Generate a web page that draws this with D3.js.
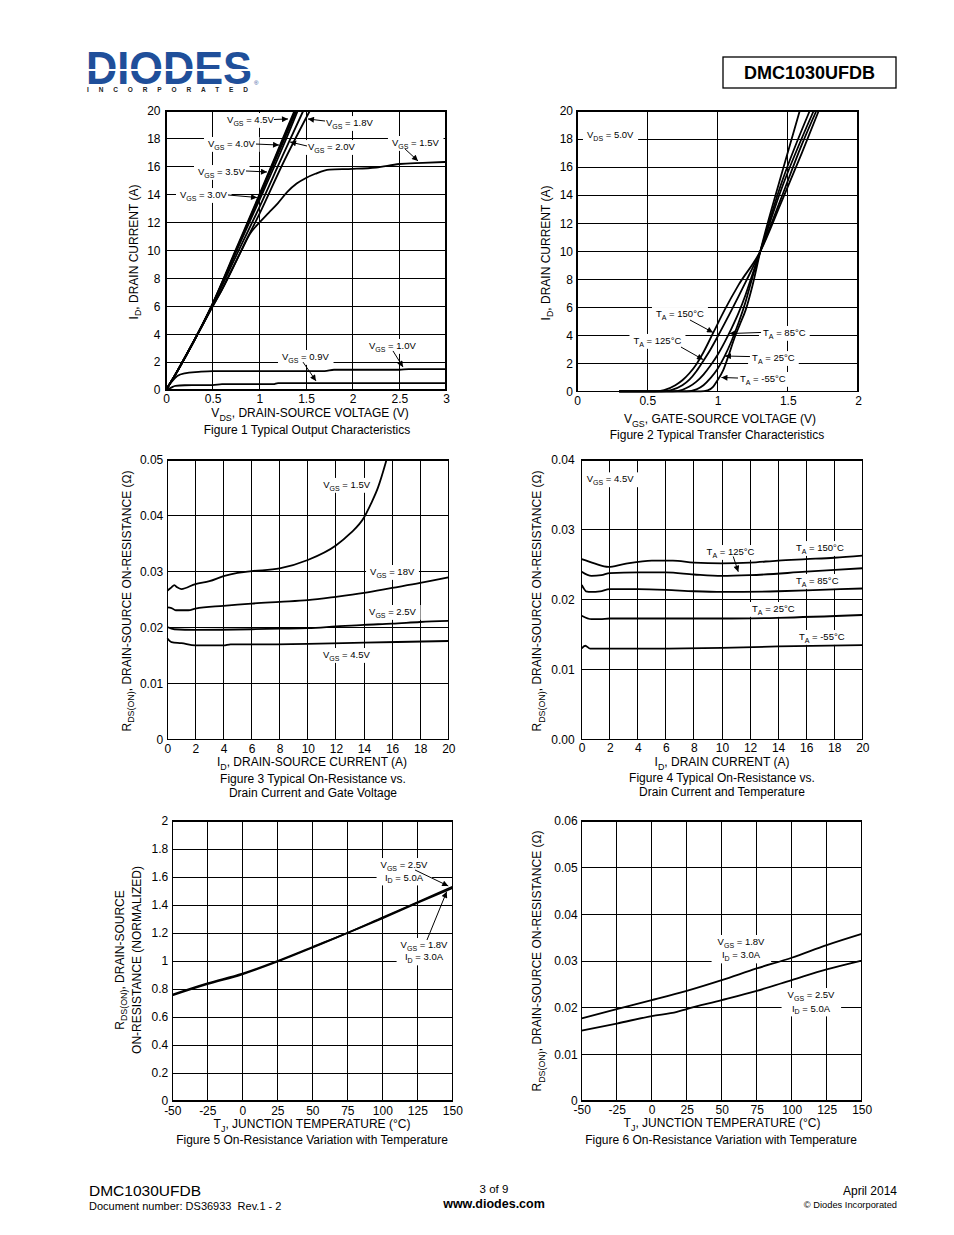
<!DOCTYPE html>
<html><head><meta charset="utf-8">
<script src="https://cdn.jsdelivr.net/npm/d3@7"></script>
<style>
body{margin:0;background:#fff}
svg{display:block}
text{font-family:"Liberation Sans",Arial,Helvetica,sans-serif;fill:#000}
</style>
</head><body>
<svg id="page" width="954" height="1235"></svg>
<script>
// ---------------- DATA ----------------
// Figure 1: ID (A) vs VDS (V)
const f1Vgs45 = [[0,0],[0.1,1.1],[0.25,2.9],[0.5,6.2],[0.75,10.1],[1.0,14.0],[1.25,18.0],[1.375,20]];
const f1Vgs40 = [[0,0],[0.1,1.1],[0.25,2.9],[0.5,6.2],[0.75,10.0],[1.0,13.9],[1.25,17.9],[1.385,20]];
const f1Vgs35 = [[0,0],[0.1,1.1],[0.25,2.9],[0.5,6.15],[0.75,9.95],[1.0,13.8],[1.25,17.7],[1.395,20]];
const f1Vgs30 = [[0,0],[0.1,1.1],[0.25,2.9],[0.5,6.1],[0.75,9.9],[1.0,13.6],[1.25,17.4],[1.41,20]];
const f1Vgs20 = [[0,0],[0.1,1.1],[0.25,2.9],[0.5,6.1],[0.75,9.6],[1.0,13.1],[1.25,16.8],[1.47,20]];
const f1Vgs18 = [[0,0],[0.1,1.1],[0.25,2.9],[0.5,6.0],[0.6,7.2],[0.75,9.2],[0.85,10.6],[1.0,12.6],[1.25,16.2],[1.54,20]];
const f1Vgs15 = [[0,0],[0.1,1.1],[0.25,2.9],[0.5,6.0],[0.6,7.2],[0.8,9.9],[0.9,11.2],[1.0,12.0],[1.1,12.7],[1.2,13.4],[1.3,14.2],[1.4,14.8],[1.5,15.2],[1.6,15.5],[1.75,15.8],[2.0,15.85],[2.25,15.95],[2.5,16.2],[2.75,16.28],[3.0,16.35]];
const f1Vgs10 = [[0,0],[0.05,0.5],[0.12,1.0],[0.2,1.2],[0.35,1.3],[0.5,1.36],[1.0,1.35],[1.7,1.35],[1.8,1.45],[2.5,1.45],[2.6,1.5],[3.0,1.5]];
const f1Vgs09 = [[0,0],[0.05,0.15],[0.1,0.3],[0.2,0.34],[0.5,0.35],[0.6,0.42],[1.15,0.42],[1.2,0.5],[3.0,0.5]];
const f1XTicks = [0,0.5,1,1.5,2,2.5,3];
const f1XTickLabels = ["0","0.5","1","1.5","2","2.5","3"];
const f1YTicks = [0,2,4,6,8,10,12,14,16,18,20];
const f1YTickLabels = ["0","2","4","6","8","10","12","14","16","18","20"];

// Figure 2: ID (A) vs VGS (V)
const f2T150 = [[0.3,0],[0.55,0],[0.62,0.1],[0.7,0.45],[0.75,0.8],[0.8,1.3],[0.85,1.95],[0.9,2.8],[0.97,4.2],[1.05,5.8],[1.15,7.6],[1.305,10],[1.45,13.4],[1.6,17.0],[1.72,20]];
const f2T125 = [[0.3,0],[0.6,0],[0.67,0.1],[0.75,0.45],[0.8,0.85],[0.85,1.45],[0.9,2.2],[0.95,3.0],[1.0,3.9],[1.1,5.8],[1.2,7.8],[1.305,10],[1.45,13.7],[1.6,17.6],[1.703,20]];
const f2T85 = [[0.3,0],[0.68,0],[0.75,0.12],[0.8,0.35],[0.85,0.7],[0.9,1.2],[0.95,1.85],[1.0,2.6],[1.05,3.5],[1.1,4.5],[1.15,5.6],[1.2,6.9],[1.25,8.4],[1.305,10],[1.45,14.3],[1.684,20]];
const f2T25 = [[0.3,0],[0.78,0],[0.85,0.15],[0.9,0.45],[0.95,0.95],[1.0,1.6],[1.05,2.5],[1.1,3.6],[1.15,4.9],[1.2,6.4],[1.25,8.2],[1.305,10],[1.45,14.7],[1.656,20]];
const f2Tm55 = [[0.3,0],[0.88,0],[0.93,0.08],[0.97,0.35],[1.0,0.8],[1.04,1.5],[1.08,2.6],[1.12,3.8],[1.16,4.8],[1.2,5.8],[1.25,7.6],[1.305,10],[1.45,15.3],[1.585,20]];
const f2XTicks = [0,0.5,1,1.5,2];
const f2XTickLabels = ["0","0.5","1","1.5","2"];
const f2YTicks = [0,2,4,6,8,10,12,14,16,18,20];
const f2YTickLabels = ["0","2","4","6","8","10","12","14","16","18","20"];

// Figure 3: RDS(ON) (ohm) vs ID (A)
const f3Vgs15 = [[0,0.0266],[0.3,0.0272],[0.5,0.0276],[0.7,0.0272],[1.0,0.0269],[2,0.0278],[3,0.0283],[4,0.0292],[5,0.0298],[6,0.0301],[8,0.0306],[10,0.0321],[12,0.0347],[13,0.0368],[14,0.0397],[14.5,0.0422],[15,0.0451],[15.6,0.05]];
const f3Vgs18 = [[0,0.0236],[0.3,0.0235],[0.6,0.0231],[1.5,0.0231],[2,0.0234],[4,0.0239],[6,0.0243],[8,0.0246],[10,0.0249],[12,0.0255],[14,0.0262],[16,0.0271],[18,0.028],[20,0.029]];
const f3Vgs25 = [[0,0.0201],[0.5,0.0197],[2,0.0196],[6,0.0197],[8,0.0198],[10,0.0199],[12,0.0202],[14,0.0205],[16,0.0207],[18,0.021],[20,0.0212]];
const f3Vgs45 = [[0,0.0181],[0.3,0.0174],[1.0,0.0172],[2,0.0168],[4,0.0168],[4.5,0.017],[6,0.017],[10,0.0171],[14,0.0173],[20,0.0176]];
const f3XTicks = [0,2,4,6,8,10,12,14,16,18,20];
const f3XTickLabels = ["0","2","4","6","8","10","12","14","16","18","20"];
const f3YTicks = [0,0.01,0.02,0.03,0.04,0.05];
const f3YTickLabels = ["0","0.01","0.02","0.03","0.04","0.05"];

// Figure 4: RDS(ON) (ohm) vs ID (A), by temperature
const f4T150 = [[0,0.0258],[0.9,0.0252],[1.9,0.0247],[3,0.0251],[5,0.0256],[6.5,0.0256],[8,0.0253],[10,0.0252],[12,0.0253],[14,0.0256],[16,0.0258],[18,0.026],[20,0.0263]];
const f4T125 = [[0,0.024],[0.7,0.0234],[1.4,0.0235],[2,0.0238],[4,0.0239],[6,0.0239],[8,0.0236],[10,0.0234],[12,0.0235],[16,0.024],[20,0.0245]];
const f4T85 = [[0,0.0221],[0.15,0.0216],[0.3,0.0212],[0.7,0.0211],[1.3,0.0212],[2,0.0215],[4,0.0215],[6,0.0214],[8,0.0212],[10,0.0211],[14,0.0212],[17,0.0214],[20,0.0216]];
const f4T25 = [[0,0.0177],[0.7,0.0172],[1.3,0.0172],[2,0.0173],[10,0.0173],[14,0.0174],[20,0.0178]];
const f4Tm55 = [[0,0.013],[0.25,0.0134],[0.6,0.013],[1,0.013],[5,0.013],[10,0.0131],[14,0.0133],[20,0.0135]];
const f4XTicks = [0,2,4,6,8,10,12,14,16,18,20];
const f4XTickLabels = ["0","2","4","6","8","10","12","14","16","18","20"];
const f4YTicks = [0,0.01,0.02,0.03,0.04];
const f4YTickLabels = ["0.00","0.01","0.02","0.03","0.04"];

// Figure 5: normalized RDS(ON) vs TJ
const f5Vgs25 = [[-50,0.76],[-25,0.84],[0,0.91],[25,1.0],[50,1.1],[75,1.2],[100,1.31],[125,1.42],[150,1.53]];
const f5Vgs18 = [[-50,0.755],[-25,0.835],[0,0.905],[25,0.995],[50,1.095],[75,1.2],[100,1.305],[125,1.415],[150,1.52]];
const f5XTicks = [-50,-25,0,25,50,75,100,125,150];
const f5XTickLabels = ["-50","-25","0","25","50","75","100","125","150"];
const f5YTicks = [0,0.2,0.4,0.6,0.8,1,1.2,1.4,1.6,1.8,2];
const f5YTickLabels = ["0","0.2","0.4","0.6","0.8","1","1.2","1.4","1.6","1.8","2"];

// Figure 6: RDS(ON) (ohm) vs TJ
const f6Vgs18 = [[-50,0.0177],[-25,0.0197],[0,0.0216],[25,0.0236],[50,0.0259],[75,0.0284],[100,0.0307],[125,0.0334],[150,0.0358]];
const f6Vgs25 = [[-50,0.0151],[-25,0.0166],[0,0.0182],[18,0.0191],[25,0.0197],[50,0.0216],[75,0.0236],[100,0.0259],[125,0.0282],[150,0.0301]];
const f6XTicks = [-50,-25,0,25,50,75,100,125,150];
const f6XTickLabels = ["-50","-25","0","25","50","75","100","125","150"];
const f6YTicks = [0,0.01,0.02,0.03,0.04,0.05,0.06];
const f6YTickLabels = ["0","0.01","0.02","0.03","0.04","0.05","0.06"];

// ---------------- DRAWING ----------------
const svg = d3.select('#page');
const defs = svg.append('defs');
defs.append('marker').attr('id','arr').attr('viewBox','0 0 10 10')
  .attr('refX',10).attr('refY',5).attr('markerWidth',8).attr('markerHeight',6)
  .attr('markerUnits','userSpaceOnUse').attr('orient','auto')
  .append('path').attr('d','M0,0L10,5L0,10Z').attr('fill','#000');

function rich(t, str, size){
  const parts = str.split(/(_\{[^}]*\})/).filter(s=>s.length);
  let pend = 0;
  parts.forEach(p=>{
    if(p.startsWith('_{')){
      t.append('tspan').attr('font-size',size*0.74).attr('dy',size*0.3).text(p.slice(2,-1));
      pend = -size*0.3;
    } else {
      t.append('tspan').attr('dy',pend).text(p);
      pend = 0;
    }
  });
  return t;
}

let clipId = 0;
function drawChart(c){
  const F = c.frame;
  const x = d3.scaleLinear().domain(c.xDomain).range([F.left,F.right]);
  const y = d3.scaleLinear().domain(c.yDomain).range([F.bottom,F.top]);
  const g = svg.append('g');
  const gGrid = g.append('g'), gBox = g.append('g'), gCurve = g.append('g'), gFrame = g.append('g'), gText = g.append('g'), gArrow = g.append('g');
  gGrid.selectAll('line.v').data(c.xTicks).join('line')
    .attr('x1',d=>x(d)).attr('x2',d=>x(d)).attr('y1',F.top).attr('y2',F.bottom)
    .attr('stroke','#000').attr('stroke-width',1).attr('shape-rendering','crispEdges');
  gGrid.selectAll('line.h').data(c.yTicks).join('line')
    .attr('y1',d=>y(d)).attr('y2',d=>y(d)).attr('x1',F.left).attr('x2',F.right)
    .attr('stroke','#000').attr('stroke-width',1).attr('shape-rendering','crispEdges');
  gFrame.append('rect').attr('x',F.left).attr('y',F.top).attr('width',F.right-F.left).attr('height',F.bottom-F.top)
    .attr('fill','none').attr('stroke','#000').attr('stroke-width',1.2).attr('shape-rendering','crispEdges');
  const cid = 'clip'+(clipId++);
  defs.append('clipPath').attr('id',cid).append('rect').attr('x',F.left-1).attr('y',F.top-1).attr('width',F.right-F.left+2).attr('height',F.bottom-F.top+2);
  const line = d3.line().x(d=>x(d[0])).y(d=>y(d[1])).curve(d3.curveMonotoneX);
  gCurve.attr('clip-path',`url(#${cid})`).selectAll('path').data(c.series).join('path')
    .attr('d',d=>line(d)).attr('fill','none').attr('stroke','#000').attr('stroke-width',1.8).attr('stroke-linejoin','round');
  const xa = g.append('g').attr('transform',`translate(0,${F.bottom})`)
    .call(d3.axisBottom(x).tickValues(c.xTicks).tickSize(0).tickPadding(c.xPad).tickFormat((d,i)=>c.xTickLabels[i]));
  const ya = g.append('g').attr('transform',`translate(${F.left},0)`)
    .call(d3.axisLeft(y).tickValues(c.yTicks).tickSize(0).tickPadding(c.yPad).tickFormat((d,i)=>c.yTickLabels[i]));
  [xa,ya].forEach(a=>{a.select('.domain').remove(); a.attr('font-family',null).attr('font-size',12); a.selectAll('text').attr('fill','#000');});
  rich(g.append('text').attr('x',c.xTitleX).attr('y',c.xTitleY).attr('text-anchor','middle').attr('font-size',12), c.xTitle, 12);
  c.yTitles.forEach(t=>{
    rich(g.append('text').attr('transform',`translate(${t.x},${t.y}) rotate(-90)`).attr('text-anchor','middle').attr('font-size',12), t.text, 12);
  });
  c.captions.forEach(t=>{
    g.append('text').attr('x',c.capX).attr('y',t.y).attr('text-anchor','middle').attr('font-size',12).text(t.text);
  });
  (c.labels||[]).forEach(L=>{
    const lg = gText.append('g');
    const gap = L.gap || 13;
    L.lines.forEach((s,i)=>{
      rich(lg.append('text').attr('x',x(L.at[0])).attr('y',y(L.at[1])+i*gap).attr('text-anchor',L.anchor||'start').attr('font-size',9.5), s, 9.5);
    });
    const bb = lg.node().getBBox();
    const px = L.padX!=null?L.padX:4, py = 1;
    gBox.append('rect').attr('x',bb.x-px).attr('y',bb.y-py).attr('width',bb.width+2*px).attr('height',bb.height+2*py).attr('fill','#fff');
    if(L.arrow){
      gArrow.append('line').attr('x1',x(L.arrow[0][0])).attr('y1',y(L.arrow[0][1]))
        .attr('x2',x(L.arrow[1][0])).attr('y2',y(L.arrow[1][1]))
        .attr('stroke','#000').attr('stroke-width',1).attr('marker-end','url(#arr)');
    }
  });
}

// Figure 1
drawChart({
  frame:{left:166,right:446,top:111,bottom:390},
  xDomain:[0,3], yDomain:[0,20],
  xTicks:f1XTicks, xTickLabels:f1XTickLabels, yTicks:f1YTicks, yTickLabels:f1YTickLabels,
  xPad:4.5, yPad:5.5,
  series:[f1Vgs45,f1Vgs40,f1Vgs35,f1Vgs30,f1Vgs20,f1Vgs18,f1Vgs15,f1Vgs10,f1Vgs09],
  xTitle:'V_{DS}, DRAIN-SOURCE VOLTAGE (V)', xTitleX:310, xTitleY:417,
  yTitles:[{text:'I_{D}, DRAIN CURRENT (A)', x:137.5, y:252}],
  captions:[{text:'Figure 1 Typical Output Characteristics', y:434}], capX:307,
  labels:[
    {lines:['V_{GS} = 4.5V'], at:[0.654,19.14], arrow:[[1.157,19.39],[1.307,19.43]]},
    {lines:['V_{GS} = 4.0V'], at:[0.45,17.42], arrow:[[0.964,17.63],[1.211,17.56]]},
    {lines:['V_{GS} = 3.5V'], at:[0.343,15.41], arrow:[[0.857,15.7],[1.082,15.63]]},
    {lines:['V_{GS} = 3.0V'], at:[0.15,13.76], arrow:[[0.664,13.98],[0.975,13.8]]},
    {lines:['V_{GS} = 1.8V'], at:[1.714,18.92], arrow:[[1.704,19.28],[1.521,19.43]]},
    {lines:['V_{GS} = 2.0V'], at:[1.521,17.2], arrow:[[1.511,17.49],[1.329,17.78]]},
    {lines:['V_{GS} = 1.5V'], at:[2.421,17.49], arrow:[[2.561,17.28],[2.7,16.42]]},
    {lines:['V_{GS} = 1.0V'], at:[2.175,2.94], arrow:[[2.432,2.8],[2.539,1.65]]},
    {lines:['V_{GS} = 0.9V'], at:[1.243,2.15], arrow:[[1.468,2.0],[1.607,0.65]]}
  ]
});

// Figure 2
drawChart({
  frame:{left:577,right:858,top:111,bottom:391.5},
  xDomain:[0,2], yDomain:[0,20],
  xTicks:f2XTicks, xTickLabels:f2XTickLabels, yTicks:f2YTicks, yTickLabels:f2YTickLabels,
  xPad:5, yPad:4,
  series:[f2T150,f2T125,f2T85,f2T25,f2Tm55],
  xTitle:'V_{GS}, GATE-SOURCE VOLTAGE (V)', xTitleX:720, xTitleY:423,
  yTitles:[{text:'I_{D}, DRAIN CURRENT (A)', x:549.5, y:253}],
  captions:[{text:'Figure 2 Typical Transfer Characteristics', y:439}], capX:717,
  labels:[
    {lines:['V_{DS} = 5.0V'], at:[0.071,18.07]},
    {lines:['T_{A} = 150°C'], at:[0.562,5.31], arrow:[[0.804,5.1],[0.968,4.21]]},
    {lines:['T_{A} = 125°C'], at:[0.402,3.39], arrow:[[0.74,3.17],[0.897,2.28]]},
    {lines:['T_{A} = 85°C'], at:[1.324,3.96], arrow:[[1.31,4.21],[1.085,4.13]]},
    {lines:['T_{A} = 25°C'], at:[1.246,2.17], arrow:[[1.231,2.49],[1.053,2.53]]},
    {lines:['T_{A} = -55°C'], at:[1.16,0.68], arrow:[[1.146,0.96],[1.028,1.0]]}
  ]
});

// Figure 3
drawChart({
  frame:{left:167.3,right:448.3,top:460,bottom:739.3},
  xDomain:[0,20], yDomain:[0,0.05],
  xTicks:f3XTicks, xTickLabels:f3XTickLabels, yTicks:f3YTicks, yTickLabels:f3YTickLabels,
  xPad:5.5, yPad:4,
  series:[f3Vgs15,f3Vgs18,f3Vgs25,f3Vgs45],
  xTitle:'I_{D}, DRAIN-SOURCE CURRENT (A)', xTitleX:312, xTitleY:766,
  yTitles:[{text:'R_{DS(ON)}, DRAIN-SOURCE ON-RESISTANCE (Ω)', x:130.5, y:601}],
  captions:[{text:'Figure 3 Typical On-Resistance vs.', y:783},{text:'Drain Current and Gate Voltage', y:797}], capX:313,
  labels:[
    {lines:['V_{GS} = 1.5V'], at:[11.1,0.045]},
    {lines:['V_{GS} = 18V'], at:[14.43,0.02941]},
    {lines:['V_{GS} = 2.5V'], at:[14.36,0.02225]},
    {lines:['V_{GS} = 4.5V'], at:[11.08,0.01455]}
  ]
});

// Figure 4
drawChart({
  frame:{left:581.7,right:862.3,top:460,bottom:739.3},
  xDomain:[0,20], yDomain:[0,0.04],
  xTicks:f4XTicks, xTickLabels:f4XTickLabels, yTicks:f4YTicks, yTickLabels:f4YTickLabels,
  xPad:4, yPad:7,
  series:[f4T150,f4T125,f4T85,f4T25,f4Tm55],
  xTitle:'I_{D}, DRAIN CURRENT (A)', xTitleX:722, xTitleY:766,
  yTitles:[{text:'R_{DS(ON)}, DRAIN-SOURCE ON-RESISTANCE (Ω)', x:541, y:601}],
  captions:[{text:'Figure 4 Typical On-Resistance vs.', y:782},{text:'Drain Current and Temperature', y:796}], capX:722,
  labels:[
    {lines:['V_{GS} = 4.5V'], at:[0.357,0.0368]},
    {lines:['T_{A} = 125°C'], at:[8.9,0.02639], arrow:[[10.8,0.02618],[11.16,0.024]]},
    {lines:['T_{A} = 150°C'], at:[15.27,0.02696]},
    {lines:['T_{A} = 85°C'], at:[15.27,0.02224]},
    {lines:['T_{A} = 25°C'], at:[12.14,0.01823]},
    {lines:['T_{A} = -55°C'], at:[15.48,0.01422]}
  ]
});

// Figure 5
drawChart({
  frame:{left:172.3,right:452.3,top:821,bottom:1101},
  xDomain:[-50,150], yDomain:[0,2],
  xTicks:f5XTicks, xTickLabels:f5XTickLabels, yTicks:f5YTicks, yTickLabels:f5YTickLabels,
  xPad:5.5, yPad:4,
  series:[f5Vgs25,f5Vgs18],
  xTitle:'T_{J}, JUNCTION TEMPERATURE (°C)', xTitleX:312, xTitleY:1128,
  yTitles:[{text:'R_{DS(ON)}, DRAIN-SOURCE', x:123.5, y:960},{text:'ON-RESISTANCE (NORMALIZED)', x:140.5, y:960}],
  captions:[{text:'Figure 5 On-Resistance Variation with Temperature', y:1144}], capX:312,
  labels:[
    {lines:['V_{GS} = 2.5V','I_{D} = 5.0A'], at:[115.5,1.664], anchor:'middle', gap:12.5, arrow:[[123.4,1.65],[147.1,1.536]]},
    {lines:['V_{GS} = 1.8V','I_{D} = 3.0A'], at:[129.8,1.093], anchor:'middle', gap:12.5, arrow:[[131.9,1.15],[146,1.495]]}
  ]
});

// Figure 6
drawChart({
  frame:{left:581.7,right:861.7,top:821,bottom:1101},
  xDomain:[-50,150], yDomain:[0,0.06],
  xTicks:f6XTicks, xTickLabels:f6XTickLabels, yTicks:f6YTicks, yTickLabels:f6YTickLabels,
  xPad:4.5, yPad:4,
  series:[f6Vgs18,f6Vgs25],
  xTitle:'T_{J}, JUNCTION TEMPERATURE (°C)', xTitleX:722, xTitleY:1127,
  yTitles:[{text:'R_{DS(ON)}, DRAIN-SOURCE ON-RESISTANCE (Ω)', x:541, y:961}],
  captions:[{text:'Figure 6 On-Resistance Variation with Temperature', y:1144}], capX:721,
  labels:[
    {lines:['V_{GS} = 1.8V','I_{D} = 3.0A'], at:[63.8,0.03343], anchor:'middle', gap:13.5, padX:6},
    {lines:['V_{GS} = 2.5V','I_{D} = 5.0A'], at:[113.8,0.02207], anchor:'middle', gap:13.5, padX:6}
  ]
});

// ---------------- HEADER / FOOTER ----------------
const hdr = svg.append('g');
hdr.append('text').attr('x',86).attr('y',84).attr('font-size',47).attr('font-weight','bold')
  .attr('textLength',166).attr('lengthAdjust','spacingAndGlyphs').style('fill','#1f4f9a').text('DIODES');
hdr.append('rect').attr('x',84).attr('y',69).attr('width',170).attr('height',2).attr('fill','#fff');
hdr.append('text').attr('x',254).attr('y',85).attr('font-size',6).style('fill','#1f4f9a').text('®');
hdr.append('text').attr('x',87).attr('y',92).attr('font-size',6.5).attr('font-weight','bold')
  .attr('textLength',161).attr('lengthAdjust','spacing').style('fill','#222').text('INCORPORATED');
hdr.append('rect').attr('x',723).attr('y',57).attr('width',173).attr('height',31).attr('fill','none').attr('stroke','#000').attr('stroke-width',1.3);
hdr.append('text').attr('x',809.5).attr('y',79).attr('text-anchor','middle').attr('font-size',18).attr('font-weight','bold').text('DMC1030UFDB');

const ftr = svg.append('g');
ftr.append('text').attr('x',89).attr('y',1196).attr('font-size',15.5).text('DMC1030UFDB');
ftr.append('text').attr('x',89).attr('y',1210).attr('font-size',11).style('white-space','pre').text('Document number: DS36933  Rev.1 - 2');
ftr.append('text').attr('x',494).attr('y',1193).attr('text-anchor','middle').attr('font-size',11.5).text('3 of 9');
ftr.append('text').attr('x',494).attr('y',1208).attr('text-anchor','middle').attr('font-size',12.5).attr('font-weight','bold').text('www.diodes.com');
ftr.append('text').attr('x',897).attr('y',1195).attr('text-anchor','end').attr('font-size',12).text('April 2014');
ftr.append('text').attr('x',897).attr('y',1208).attr('text-anchor','end').attr('font-size',9.3).text('© Diodes Incorporated');
</script>
</body></html>
